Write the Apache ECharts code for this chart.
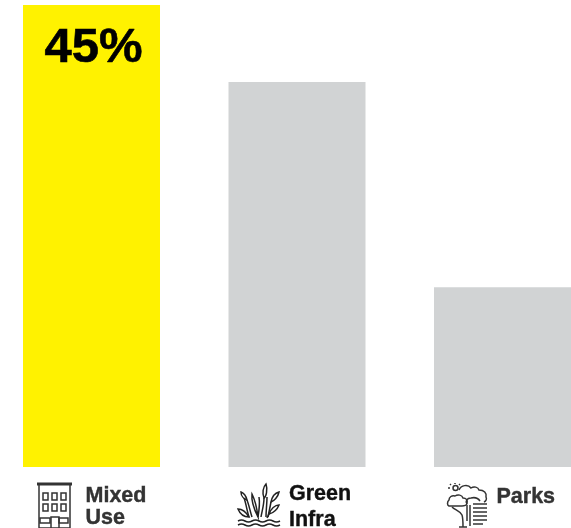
<!DOCTYPE html>
<html>
<head>
<meta charset="utf-8">
<style>html,body{margin:0;padding:0;background:#fff}#chart{width:571px;height:528px}</style>
<script src="https://cdn.jsdelivr.net/npm/echarts@6/dist/echarts.min.js"></script>
</head>
<body>
<div id="chart"></div>
<script>
// Share of land use by category
const categories = ['Mixed\nUse', 'Green\nInfra', 'Parks'];
const shares = [45, 37.5, 17.5];
const barColors = ['#fff200', '#d1d3d4', '#d1d3d4'];
const labelColors = ['#333333', '#111111', '#333333'];
const labelOffsets = [-6, -8, -6];
const labelLineHeights = [22, 26, 22];
const labelMargins = [18, 14, 19];

// Line icons beside each category name
const iconBuildingCap = ['M37 484H72'];
const iconBuilding = [
  'M39 485V528H70V485',
  'M43 493h5v7h-5z', 'M52 493h5v7h-5z', 'M61 493h5v7h-5z',
  'M43 504h5v7h-5z', 'M52 504h5v7h-5z', 'M61 504h5v7h-5z',
  'M40 518h10v5h-10z', 'M59 518h9v5h-9z', 'M51 528V517h8v11'
];
const iconReeds = [
  'M238 521q3.5 -2 7 0t7 0t7 0t7 0t7 0t7 0', 'M238 525q3.5 -2 7 0t7 0t7 0t7 0t7 0t7 0',
  'M266 484c-3 3 -4 9 -2 14c2 -1 4 -8 2 -14z', 'M264 498c0 7 -2 13 -3 19', 'M267 497c0 7 -1 13 -1 20',
  'M241 492c3 1 5 4 6 8c-3 -1 -6 -4 -6 -8z', 'M247 500c2 5 3 11 5 17', 'M244 498c2 5 3 13 5 19',
  'M252 494c3 6 5 15 6 23c-3 -6 -7 -15 -6 -23z', 'M258 517c1 -6 2 -14 1 -20',
  'M238 509c4 0 8 3 11 8c-5 0 -9 -3 -11 -8z',
  'M279 492c-4 1 -7 5 -8 10c3 -1 7 -5 8 -10z', 'M271 502c-1 5 -2 10 -3 15',
  'M279 505c-4 0 -8 4 -10 9c4 -1 8 -4 10 -9z', 'M269 514l-2 4'
];
const iconTrees = [
  'M453 488a2.5 2.5 0 1 0 5 0a2.5 2.5 0 1 0 -5 0z', 'M455 483v1', 'M450 484l1 1', 'M460 484l-1 1', 'M448 488h2',
  'M459 490c2 -5 9 -6 12 -2c3 -2 7 -1 8 2c5 0 8 3 7 7c1 2 0 4 -2 5',
  'M467 521v-16', 'M470 526v-21',
  'M467 504c-2 -3 0 -6 4 -6c4 -1 7 0 9 3',
  'M449 500c0 -3 3 -5 6 -4c3 -2 7 -1 8 2c3 0 5 2 4 5c0 2 -3 3 -5 3h-13c-2 -1 -2 -4 0 -6z',
  'M452 507c3 3 8 4 10 8c1 3 1 7 1 12', 'M459 527h8',
  'M473 504h14', 'M473 508h14', 'M473 512h14', 'M473 516h14', 'M473 520h14', 'M473 524h10'
];

function strokes(paths, color, width) {
  return paths.map(function (d) {
    return {
      type: 'path',
      shape: { pathData: d, layout: 'none' },
      style: { fill: null, stroke: color, lineWidth: width }
    };
  });
}

const chart = echarts.init(document.getElementById('chart'), null, { renderer: 'canvas' });
chart.setOption({
  animation: false,
  backgroundColor: '#ffffff',
  grid: { left: -11.25, top: 5, width: 616.5, height: 462, containLabel: false, outerBoundsMode: 'none' },
  xAxis: {
    type: 'category',
    data: categories.map(function (name, i) {
      return {
        value: name,
        textStyle: {
          color: labelColors[i],
          textBorderColor: labelColors[i],
          textBorderWidth: 0.4,
          align: 'left',
          verticalAlign: 'top',
          lineHeight: labelLineHeights[i],
          padding: [labelMargins[i], 0, 0, labelOffsets[i]]
        }
      };
    }),
    axisLine: { show: false },
    axisTick: { show: false },
    axisLabel: {
      interval: 0,
      hideOverlap: false,
      margin: 0,
      fontFamily: '"Liberation Sans", Arial, sans-serif',
      fontWeight: 'bold',
      fontSize: 21.5
    }
  },
  yAxis: { type: 'value', min: 0, max: 45, show: false },
  series: [{
    type: 'bar',
    barWidth: 137,
    data: shares.map(function (v, i) {
      return {
        value: v,
        itemStyle: { color: barColors[i] },
        label: {
          show: i === 0,
          position: 'insideTop',
          distance: 18.5,
          padding: [0, 0, 0, 4],
          formatter: '{c}%',
          color: '#000000',
          textBorderColor: '#000000',
          textBorderWidth: 0.6,
          fontFamily: '"Liberation Sans", Arial, sans-serif',
          fontWeight: 'bold',
          fontSize: 49
        }
      };
    })
  }, {
    type: 'custom',
    coordinateSystem: 'none',
    silent: true,
    data: [0],
    renderItem: function () {
      return {
        type: 'group',
        children: [].concat(
          strokes(iconBuildingCap, '#333333', 3),
          strokes(iconBuilding, '#333333', 1.5),
          strokes(iconReeds, '#222222', 1.5),
          strokes(iconTrees, '#333333', 1.5)
        )
      };
    }
  }]
});
</script>
</body>
</html>
